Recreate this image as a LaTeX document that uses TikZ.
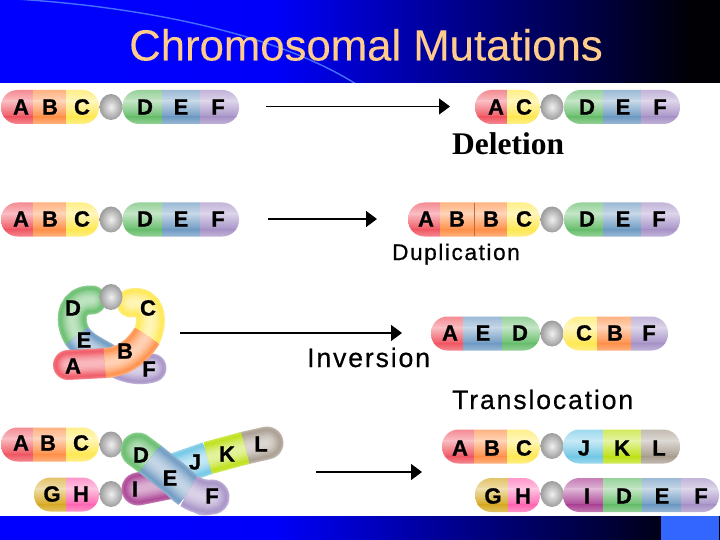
\documentclass[tikz,border=0pt]{standalone}
\usepackage{fontspec}
\setmainfont{Liberation Sans}
\newfontfamily\serifb{Liberation Serif}
\newfontfamily\spaced[LetterSpace=7,FakeBold=0.6]{Liberation Sans}
\newfontfamily\letfont[FakeBold=1]{Liberation Sans Bold}
\newfontfamily\titlefont[FakeBold=0.12]{Liberation Sans}
\usetikzlibrary{arrows.meta}
\definecolor{ca}{RGB}{240,88,100}
\definecolor{cb}{RGB}{255,145,75}
\definecolor{cc}{RGB}{255,232,85}
\definecolor{cd}{RGB}{105,190,110}
\definecolor{ce}{RGB}{112,155,195}
\definecolor{cf}{RGB}{168,148,200}
\definecolor{cg}{RGB}{215,170,40}
\definecolor{ch}{RGB}{255,105,180}
\definecolor{ci}{RGB}{172,70,150}
\definecolor{cj}{RGB}{115,200,230}
\definecolor{ck}{RGB}{190,225,25}
\definecolor{cl}{RGB}{170,158,145}
\definecolor{peach}{RGB}{255,204,140}
\definecolor{arcblue}{RGB}{70,110,255}
\definecolor{boxblue}{RGB}{51,102,255}
\pgfdeclarehorizontalshading{bandsh}{100bp}{rgb(0bp)=(0,0,1); rgb(25bp)=(0,0,1); rgb(44bp)=(0,0,.98); rgb(50bp)=(0,0,.78); rgb(58.3bp)=(0,0,.5); rgb(66.7bp)=(0,0,.24); rgb(73bp)=(0,0,.02); rgb(100bp)=(0,0,0)}
\tikzset{
  letter/.style={font=\letfont\fontsize{22}{22}\selectfont,text=black,inner sep=0pt,anchor=center},
  flow/.style={draw=black,line width=1.3pt,-{Triangle[length=11pt,width=16pt]}},
  cap/.style={font=\spaced\fontsize{#1}{#1}\selectfont,text=black,inner sep=0pt,anchor=base west},
  band/.style={shading=bandsh,draw=none}
}
\newcount\ltc
\newcommand\lt[3]{\global\advance\ltc by 1\relax\node[letter] (lt\the\ltc) at (#1,#2) {#3};}
\newcommand\seg[3]{%
  \shade[top color=#3!70!white,bottom color=#3!40!white] (#1,\yc-17.2) rectangle (#2,\yc-6);
  \shade[top color=#3!40!white,bottom color=#3] (#1,\yc-6.05) rectangle (#2,\yc+10);
  \shade[top color=#3,bottom color=#3!70!white] (#1,\yc+9.95) rectangle (#2,\yc+17.2);
}
\newcommand\arm[4]{\def\yc{#1}\begin{scope}\clip[rounded corners=16.5pt] (#2,#1-17) rectangle (#3,#1+17);#4\end{scope}}
\newcommand\cen[2]{\shade[inner color=gray!12,outer color=gray!78] (#1,#2) ellipse[x radius=11.5,y radius=13];}
\newcommand\tube[3][butt]{\foreach \w/\m in {1/75,.94/88,.86/96,.78/92,.7/84,.62/76,.54/68,.46/61,.38/55,.3/50,.22/46,.14/43}{\draw[line cap=#1,line width=\w*\tw pt,color=#3!\m!white] #2;}}
\newcommand\lefttop[1]{%
  \arm{#1}{1}{99}{\seg{1}{33}{ca}\seg{33}{66}{cb}\seg{66}{100}{cc}}
  \cen{111}{#1}
}
\newcommand\defgarm[1]{\arm{#1}{122.5}{239}{\seg{122}{162}{cd}\seg{162}{200}{ce}\seg{200}{240}{cf}}}
\begin{document}
\begin{tikzpicture}[x=1pt,y=-1pt]
\useasboundingbox (0,0) rectangle (720,540);
\fill[white] (0,0) rectangle (720,540);
% bands
\shade[band] (0,0) rectangle (720,83);
\shade[band] (0,516) rectangle (720,540);
\fill[boxblue] (661,516) rectangle (719,540);
\begin{scope}
\clip (0,0) rectangle (720,83);
\draw[arcblue,line width=1.4pt] (15,-1) .. controls (130,6) and (270,30) .. (356,84);
\end{scope}
\node[font=\titlefont\fontsize{43.7}{44}\selectfont,text=peach,inner sep=0pt,anchor=base west] (title) at (129,60.5) {Chromosomal Mutations};

% row 1
\lefttop{107}\defgarm{107}
\lt{21}{107}{A}\lt{50}{107}{B}\lt{82}{107}{C}\lt{145}{107}{D}\lt{181}{107}{E}\lt{218}{107}{F}
\coordinate (a1s) at (266,106.5);\coordinate (a1e) at (450,106.5);
\draw[flow] (a1s) -- (a1e);
\arm{107}{475}{540}{\seg{475}{507}{ca}\seg{507}{541}{cc}}\cen{552}{107}
\arm{107}{564}{680}{\seg{564}{603}{cd}\seg{603}{641}{ce}\seg{641}{681}{cf}}
\lt{496}{107}{A}\lt{524}{107}{C}\lt{587}{107}{D}\lt{623}{107}{E}\lt{660}{107}{F}
\node[font=\serifb\bfseries\fontsize{31.5}{32}\selectfont,text=black,inner sep=0pt,anchor=base west] (del) at (452,155) {Deletion};

% row 2
\lefttop{219.5}\defgarm{219.5}
\lt{21}{219}{A}\lt{50}{219}{B}\lt{82}{219}{C}\lt{145}{219}{D}\lt{181}{219}{E}\lt{218}{219}{F}
\coordinate (a2s) at (268,219);\coordinate (a2e) at (377,219);
\draw[flow] (a2s) -- (a2e);
\arm{219.5}{408}{540}{\seg{408}{440}{ca}\seg{440}{474}{cb}\seg{474}{507}{cb}\seg{507}{541}{cc}}
\draw[cb!75!black,line width=.7pt] (474,203) -- (474,236);
\cen{552}{219.5}
\arm{219.5}{564}{680}{\seg{564}{603}{cd}\seg{603}{641}{ce}\seg{641}{681}{cf}}
\lt{426}{219}{A}\lt{457}{219}{B}\lt{491}{219}{B}\lt{524}{219}{C}\lt{587}{219}{D}\lt{623}{219}{E}\lt{659}{219}{F}
\node[cap=22.6] (dup) at (392,260) {Duplication};

% row 3 ring
\def\tw{29}
\tube[round]{(152,368) .. controls (135,373) and (118,366) .. (106,357)}{cf}
\def\tw{29}
\tube[round]{(92,300) .. controls (73,299) and (67,318) .. (77,336)}{cd}
\tube{(77,336) .. controls (83,345) and (94,350) .. (106,357)}{ce}
\tube[round]{(131,303) .. controls (151,299) and (154,320) .. (147,336)}{cc}
\def\tw{30}
\tube[round]{(68,365) -- (106,363)}{ca}
\tube{(105,363) .. controls (125,362) and (138,350) .. (147,336)}{cb}
\cen{111}{297}
\lt{73}{308}{D}\lt{84}{340}{E}\lt{148}{308}{C}\lt{125}{351}{B}\lt{73}{366}{A}\lt{149}{369}{F}
\coordinate (a3s) at (180,333);\coordinate (a3e) at (402,333);
\draw[flow] (a3s) -- (a3e);
\arm{333.5}{431}{540}{\seg{431}{463}{ca}\seg{463}{502}{ce}\seg{502}{541}{cd}}\cen{552}{333.5}
\arm{333.5}{563}{668}{\seg{563}{597}{cc}\seg{597}{631}{cb}\seg{631}{669}{cf}}
\lt{450}{333}{A}\lt{483}{333}{E}\lt{520}{333}{D}\lt{584}{333}{C}\lt{615}{333}{B}\lt{649}{333}{F}
\node[cap=26.6] (inv) at (307,367) {Inversion};
\node[cap=26.6] (tra) at (452,409) {Translocation};

% row 4 left
\lefttop{444.5}
\arm{494.5}{34}{99}{\seg{34}{66}{cg}\seg{66}{100}{ch}}\cen{111}{494}
\def\tw{33}
\tube[round]{(138,489) -- (168,483)}{ci}
\tube{(165,473) -- (208,458)}{cj}
\tube[round]{(245,448) -- (267,443)}{cl}
\tube{(208,458) -- (245,448)}{ck}
\def\tw{35}
\tube[round]{(204,498) -- (212,497)}{cf}
\tube[round]{(138,450) -- (150,459)}{cd}
\tube{(150,459) -- (174,478) .. controls (178,481) and (183,487) .. (189,491)}{ce}
\tube{(189,491) .. controls (194,494) and (200,497) .. (206,497)}{cf}
\lt{141}{455}{D}\lt{170}{478}{E}\lt{212}{496}{F}\lt{195}{462}{J}\lt{227}{454}{K}\lt{261}{444}{L}\lt{135}{489}{I}
\lt{21}{443}{A}\lt{48}{443}{B}\lt{81}{443}{C}\lt{52}{494}{G}\lt{81}{494}{H}
\coordinate (a4s) at (316,472);\coordinate (a4e) at (422,472);
\draw[flow] (a4s) -- (a4e);

% row 4 right
\arm{446.5}{442}{540}{\seg{442}{474}{ca}\seg{474}{507}{cb}\seg{507}{541}{cc}}\cen{552}{446}
\arm{446.5}{563}{680}{\seg{563}{603}{cj}\seg{603}{641}{ck}\seg{641}{681}{cl}}
\lt{460}{448}{A}\lt{492}{448}{B}\lt{524}{448}{C}\lt{584}{448}{J}\lt{622}{448}{K}\lt{659}{448}{L}
\arm{495}{475}{540}{\seg{475}{508}{cg}\seg{508}{541}{ch}}\cen{552}{494}
\arm{495}{563}{719}{\seg{563}{603}{ci}\seg{603}{642}{cd}\seg{642}{681}{ce}\seg{681}{720}{cf}}
\lt{493}{496}{G}\lt{523}{496}{H}\lt{587}{496}{I}\lt{624}{496}{D}\lt{662}{496}{E}\lt{701}{496}{F}
\end{tikzpicture}
\end{document}
